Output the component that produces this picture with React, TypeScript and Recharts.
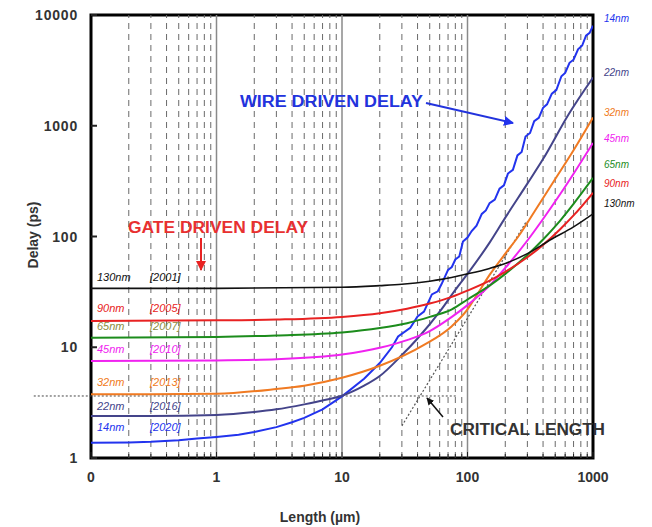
import React from 'react';
import { LineChart, Line, XAxis, YAxis, ReferenceLine, ReferenceArea } from 'recharts';

// Delay (ps) vs wire length (um): [length, delay]
const n130 = [[0.1, 34], [1, 34], [10, 34.8], [20, 36], [30, 37], [50, 39.5], [62, 41], [100, 46], [150, 51.5], [200, 57], [300, 70], [470, 95], [700, 122], [1000, 160]];
const n90 = [[0.1, 17.3], [1, 17.5], [3, 17.8], [10, 18.8], [20, 20.3], [33, 22.3], [50, 24.8], [75, 28.5], [100, 32.5], [150, 40], [200, 48], [300, 65], [400, 84], [550, 117], [700, 155], [1000, 248]];
const n65 = [[0.1, 12.2], [1, 12.4], [3, 12.8], [10, 13.6], [20, 14.9], [33, 16.5], [50, 18.8], [75, 22], [100, 27], [150, 36], [200, 46], [300, 68], [400, 94], [550, 140], [700, 197], [1000, 338]];
const n45 = [[0.1, 7.5], [1, 7.6], [3, 7.8], [10, 8.6], [20, 9.9], [33, 11.6], [50, 14], [75, 18.8], [100, 24], [150, 36], [200, 52], [300, 92], [400, 144], [550, 243], [700, 369], [1000, 700]];
const n32 = [[0.1, 3.76], [0.3, 3.76], [1, 3.8], [3, 4.2], [5, 4.5], [10, 5.3], [20, 6.8], [45, 10.5], [75, 15.5], [100, 22], [115, 28], [150, 45], [200, 70], [254, 100], [344, 170], [500, 330], [700, 600], [1000, 1186]];
const n22 = [[0.1, 2.4], [0.3, 2.4], [1, 2.45], [2, 2.6], [3, 2.75], [5, 3.05], [7, 3.3], [10, 3.65], [15, 4.5], [20, 5.5], [30, 8.5], [40, 12], [62, 22], [80, 33], [100, 46], [150, 88], [200, 148], [300, 300], [400, 500], [640, 1270], [1000, 2725]];
const n14 = [[0.1, 1.37], [0.2, 1.38], [0.3, 1.4], [0.5, 1.45], [0.7, 1.5], [1, 1.55], [1.5, 1.62], [2, 1.72], [3, 1.9], [4, 2.1], [5, 2.3], [7, 2.75], [10, 3.6], [15, 5.2], [20, 7.2], [25, 10], [28, 12.5], [35, 15], [40, 19], [45, 21], [52, 30], [58, 32], [62, 37], [70, 50], [75, 53], [80, 62], [86, 66], [92, 90], [100, 98], [108, 112], [118, 125], [130, 160], [140, 172], [150, 200], [165, 215], [180, 270], [195, 290], [210, 370], [230, 400], [250, 540], [270, 580], [290, 800], [315, 860], [340, 1100], [370, 1180], [400, 1450], [430, 1560], [470, 1950], [510, 2100], [560, 2800], [600, 3000], [650, 3700], [700, 3950], [760, 4900], [820, 5300], [880, 6500], [940, 6900], [1000, 8000]];

const nodes = ['14nm', '22nm', '32nm', '45nm', '65nm', '90nm', '130nm'];
const years = ['[2020]', '[2016]', '[2013]', '[2010]', '[2007]', '[2005]', '[2001]'];
const colors = ['#2233ee', '#44448a', '#f07a22', '#f022f0', '#1c8c1c', '#e82222', '#111111'];
const series = [n14, n22, n32, n45, n65, n90, n130];

const decades = [0.1, 1, 10, 100, 1000];
const decadeLabels = ['0', '1', '10', '100', '1000'];
const yTicks = [1, 10, 100, 1000, 10000];
const minors = [2, 3, 4, 5, 6, 7, 8, 9];
const xMinor = [0.1, 1, 10, 100].flatMap((d) => minors.map((m) => +(d * m).toPrecision(3)));
const xAllTicks = [...decades, ...xMinor].sort((a, b) => a - b);

const font = 'Liberation Sans, Arial, sans-serif';

const toPts = (arr: number[][]) => arr.map(([L, d]) => ({ L, d }));

const XTick = (p: any) => {
  const v = p.payload.value;
  const i = decades.indexOf(v);
  return (
    <g>
      <line x1={p.x} x2={p.x} y1={p.y} y2={p.y - (i >= 0 ? 6 : 4)} stroke="#222" />
      {i >= 0 && (
        <text x={p.x} y={p.y + 24} textAnchor="middle" fontFamily={font} fontWeight="bold" fontSize={14} fill="#333">
          {decadeLabels[i]}
        </text>
      )}
    </g>
  );
};

const YTick = (p: any) => (
  <g>
    <line x1={p.x} x2={p.x + 6} y1={p.y} y2={p.y} stroke="#222" strokeWidth={2} />
    <text x={p.x - 13} y={p.y + 5} textAnchor="end" fontFamily={font} fontWeight="bold" fontSize={14} fill="#333" letterSpacing={0.8}>
      {p.payload.value}
    </text>
  </g>
);

// right-edge node labels and left-side labels (pixel positions of the annotations)
const rightLabelY = [18, 72, 112, 138, 164, 183, 203];
const leftLabelY = [427, 406, 382, 349, 326, 308, 277];
const leftColors = ['#2233ee', '#44448a', '#f07a22', '#f022f0', '#8c8c40', '#e82222', '#111111'];

export default function App() {
  return (
    <div style={{ position: 'absolute', left: 0, top: 0, width: 652, height: 527, background: '#fff' }}>
      <LineChart width={652} height={527} margin={{ top: 15, right: 59, bottom: 39, left: 31 }}>
        <XAxis
          dataKey="L"
          type="number"
          scale="log"
          domain={[0.1, 1000]}
          allowDataOverflow
          ticks={xAllTicks}
          interval={0}
          tick={<XTick />}
          tickLine={false}
          tickSize={0}
          tickMargin={0}
          axisLine={false}
          height={30}
        />
        <YAxis
          type="number"
          scale="log"
          domain={[1, 10000]}
          allowDataOverflow
          ticks={yTicks}
          interval={0}
          tick={<YTick />}
          tickLine={false}
          tickSize={0}
          tickMargin={0}
          axisLine={false}
          width={60}
        />
        {xMinor.filter((v) => v > 0.1).map((v) => (
          <ReferenceLine key={'m' + v} x={v} stroke="#6a6a6a" strokeDasharray="6 5" strokeWidth={1} />
        ))}
        {[1, 10, 100].map((v) => (
          <ReferenceLine key={'d' + v} x={v} stroke="#8a8a8a" strokeWidth={1.5} />
        ))}
        <ReferenceLine
          segment={[{ x: 0.035, y: 3.63 }, { x: 82, y: 3.63 }]}
          stroke="#444"
          strokeDasharray="2 2"
          ifOverflow="visible"
        />
        <ReferenceLine
          segment={[{ x: 30, y: 1.95 }, { x: 296, y: 138 }]}
          stroke="#555"
          strokeDasharray="2 2"
          strokeWidth={1.2}
        />
        {series.map((s, i) => (
          <Line
            key={nodes[i]}
            data={toPts(s)}
            dataKey="d"
            type={i === 0 ? 'linear' : 'monotone'}
            stroke={colors[i]}
            strokeWidth={i === 6 ? 1.6 : 2}
            dot={false}
            isAnimationActive={false}
          />
        ))}
        <ReferenceArea x1={0.1} x2={1000} y1={1} y2={10000} fill="none" stroke="#000" strokeWidth={3} />
      </LineChart>
      <svg width={652} height={527} style={{ position: 'absolute', left: 0, top: 0, pointerEvents: 'none' }}>
        <defs>
          <marker id="ab" viewBox="0 0 10 10" refX="9" refY="5" markerWidth="5" markerHeight="5" orient="auto">
            <path d="M0,0 L10,5 L0,10 z" fill="#2233ee" />
          </marker>
          <marker id="ar" viewBox="0 0 10 10" refX="9" refY="5" markerWidth="5" markerHeight="5" orient="auto">
            <path d="M0,0 L10,5 L0,10 z" fill="#e82222" />
          </marker>
          <marker id="ak" viewBox="0 0 10 10" refX="9" refY="5" markerWidth="5" markerHeight="5" orient="auto">
            <path d="M0,0 L10,5 L0,10 z" fill="#111" />
          </marker>
        </defs>
        <text x={33} y={235} transform="rotate(-90 33 235)" textAnchor="middle" dominantBaseline="central" fontFamily={font} fontWeight="bold" fontSize={14} fill="#333">
          Delay (ps)
        </text>
        <text x={320} y={522} textAnchor="middle" fontFamily={font} fontWeight="bold" fontSize={14} fill="#333">
          Length (µm)
        </text>
        <text x={240} y={107} fontFamily={font} fontWeight="bold" fontSize={16} fill="#2233dd" textLength={183} lengthAdjust="spacingAndGlyphs">
          WIRE DRIVEN DELAY
        </text>
        <line x1={426} y1={103} x2={513} y2={123} stroke="#2233dd" strokeWidth={2} markerEnd="url(#ab)" />
        <text x={128} y={233} fontFamily={font} fontWeight="bold" fontSize={16} fill="#e83030" textLength={180} lengthAdjust="spacingAndGlyphs">
          GATE DRIVEN DELAY
        </text>
        <line x1={201} y1={238} x2={201} y2={270} stroke="#e82222" strokeWidth={2} markerEnd="url(#ar)" />
        <text x={450} y={435} fontFamily={font} fontWeight="bold" fontSize={16} fill="#333" textLength={155} lengthAdjust="spacingAndGlyphs">
          CRITICAL LENGTH
        </text>
        <line x1={443} y1={417} x2={427} y2={398} stroke="#111" strokeWidth={1.5} markerEnd="url(#ak)" />
        {nodes.map((n, i) => (
          <text key={'r' + n} x={604} y={rightLabelY[i] + 4} fontFamily={font} fontStyle="italic" fontSize={10} fill={colors[i]}>
            {n}
          </text>
        ))}
        {nodes.map((n, i) => (
          <g key={'l' + n}>
            <text x={97} y={leftLabelY[i] + 4} fontFamily={font} fontStyle="italic" fontSize={11} fill={leftColors[i]}>
              {n}
            </text>
            <text x={150} y={leftLabelY[i] + 4} fontFamily={font} fontStyle="italic" fontSize={11} fill={leftColors[i]}>
              {years[i]}
            </text>
          </g>
        ))}
      </svg>
    </div>
  );
}
